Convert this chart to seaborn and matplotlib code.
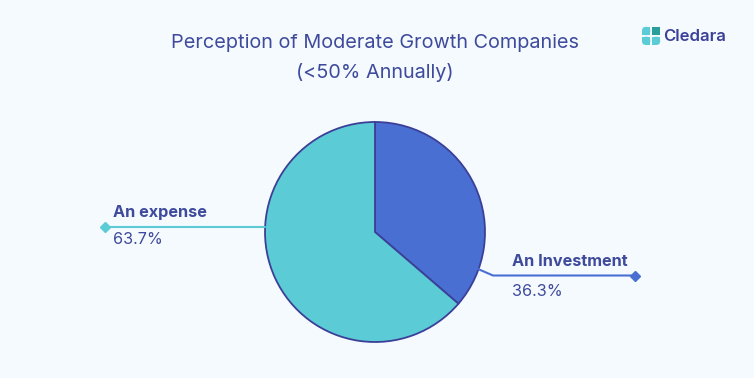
import matplotlib
matplotlib.use("Agg")
import matplotlib.pyplot as plt
import matplotlib.patches as mpatches
import seaborn as sns

# Datos
categorias = ["An Investment", "An expense"]
porcentajes = [36.3, 63.7]
colores = ["#4A6FD2", "#5BCCD6"]
titulo = "Perception of Moderate Growth Companies\n(<50% Annually)"

# Estilo
sns.set_theme(style="white")
plt.rcParams["font.family"] = ["Inter", "DejaVu Sans"]

fondo = "#F5FAFE"
texto = "#3E4A9C"
borde = "#3B3F98"

fig = plt.figure(figsize=(7.54, 3.78), dpi=100, facecolor=fondo)
ax = fig.add_axes([0, 0, 1, 1])
ax.set_facecolor(fondo)

H = 378  # para pasar de pixeles (y hacia abajo) a coordenadas

# Pie
ax.pie(porcentajes, colors=colores, startangle=90, counterclock=False,
       center=(375, H - 232), radius=110, frame=True,
       wedgeprops=dict(edgecolor=borde, linewidth=1.3))
ax.set_xlim(0, 754)
ax.set_ylim(0, 378)
ax.set_aspect("equal")
ax.axis("off")

# Titulo
ax.text(375, H - 58, titulo, ha="center", va="center", fontsize=14.3,
        color=texto, linespacing=1.68)

# Lineas guia y etiquetas
ax.plot([265, 105], [H - 226.5, H - 226.5], color=colores[1], lw=1.5, zorder=1)
ax.plot([105], [H - 226.5], marker="D", ms=5, color=colores[1])
ax.text(113, H - 212, categorias[1], fontsize=11.7, fontweight="bold",
        color=texto, va="center")
ax.text(113, H - 240, f"{porcentajes[1]}%", fontsize=11.7, color=texto,
        va="center")

ax.plot([478, 493, 635], [H - 269, H - 275.5, H - 275.5], color=colores[0],
        lw=1.5, zorder=1)
ax.plot([635], [H - 275.5], marker="D", ms=5, color=colores[0])
ax.text(512, H - 262, categorias[0], fontsize=11.7, fontweight="bold",
        color=texto, va="center")
ax.text(512, H - 292, f"{porcentajes[0]}%", fontsize=11.7, color=texto,
        va="center")


# Logo: cuatro cuadrantes, esquina exterior redondeada
def cuadrante(x, y, s, color, esquina):
    if esquina is None:
        ax.add_patch(mpatches.Rectangle((x, y), s, s, color=color, lw=0))
        return
    ax.add_patch(mpatches.FancyBboxPatch((x, y), s, s, color=color, lw=0,
                 boxstyle="round,pad=0,rounding_size=4"))
    dx, dy = esquina  # esquina redondeada: (0 izq / 1 der, 0 abajo / 1 arriba)
    ax.add_patch(mpatches.Rectangle((x + (1 - dx) * s / 2, y), s / 2, s,
                                    color=color, lw=0))
    ax.add_patch(mpatches.Rectangle((x, y + (1 - dy) * s / 2), s, s / 2,
                                    color=color, lw=0))


lx, ly, s, g = 642, H - 45, 8.3, 1.6
cuadrante(lx, ly + s + g, s, "#5BCCD6", (0, 1))
cuadrante(lx + s + g, ly + s + g, s, "#2A9E98", None)
cuadrante(lx, ly, s, "#5BCCD6", (0, 0))
cuadrante(lx + s + g, ly, s, "#5BCCD6", (1, 0))
ax.text(663, H - 36.5, "Cledara", fontsize=12, fontweight="semibold",
        color="#3A3F98", va="center")

fig.savefig("out.png", dpi=100, facecolor=fondo)
